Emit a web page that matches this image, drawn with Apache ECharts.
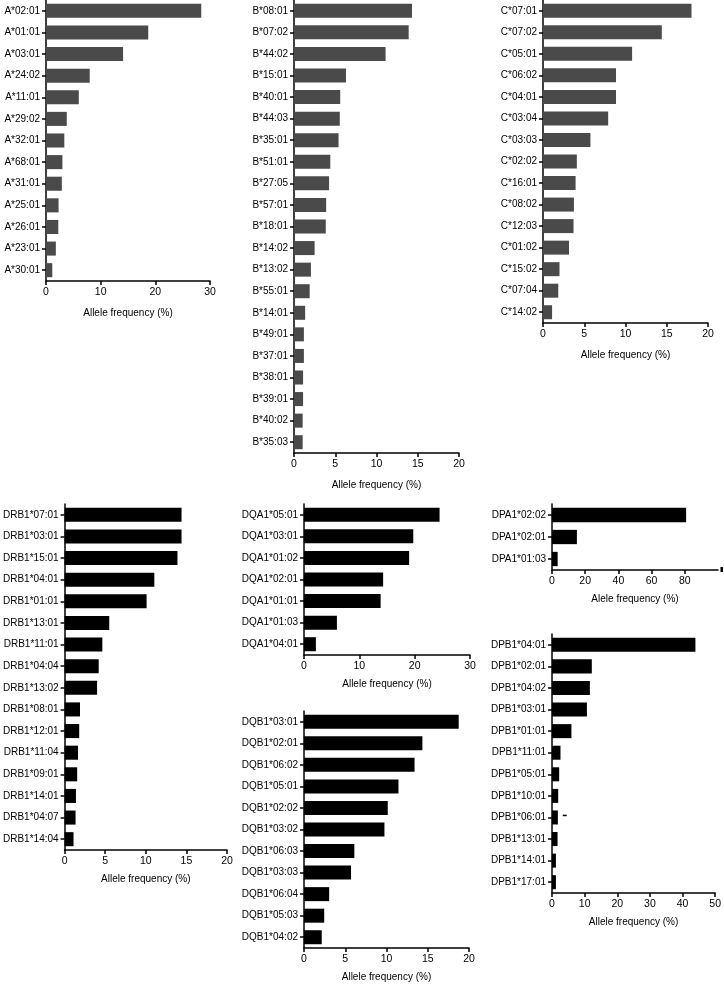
<!DOCTYPE html>
<html>
<head>
<meta charset="utf-8">
<script src="https://cdn.jsdelivr.net/npm/echarts@6/dist/echarts.min.js"></script>
<style>html,body{margin:0;padding:0;background:#fff}#c{width:724px;height:984px}</style>
</head>
<body>
<div id="c"></div>
<script>
// ---- Data ----
const hlaA = ['A*02:01','A*01:01','A*03:01','A*24:02','A*11:01','A*29:02','A*32:01','A*68:01','A*31:01','A*25:01','A*26:01','A*23:01','A*30:01'];
const hlaAVals = [28.4,18.7,14.1,8.0,6.0,3.8,3.35,3.0,2.9,2.3,2.25,1.8,1.15];

const hlaB = ['B*08:01','B*07:02','B*44:02','B*15:01','B*40:01','B*44:03','B*35:01','B*51:01','B*27:05','B*57:01','B*18:01','B*14:02','B*13:02','B*55:01','B*14:01','B*49:01','B*37:01','B*38:01','B*39:01','B*40:02','B*35:03'];
const hlaBVals = [14.3,13.9,11.1,6.3,5.6,5.55,5.4,4.4,4.25,3.9,3.85,2.5,2.05,1.9,1.35,1.2,1.2,1.1,1.1,1.05,1.05];

const hlaC = ['C*07:01','C*07:02','C*05:01','C*06:02','C*04:01','C*03:04','C*03:03','C*02:02','C*16:01','C*08:02','C*12:03','C*01:02','C*15:02','C*07:04','C*14:02'];
const hlaCVals = [18.0,14.4,10.8,8.85,8.85,7.9,5.75,4.1,3.95,3.75,3.7,3.15,2.0,1.85,1.1];

const drb1 = ['DRB1*07:01','DRB1*03:01','DRB1*15:01','DRB1*04:01','DRB1*01:01','DRB1*13:01','DRB1*11:01','DRB1*04:04','DRB1*13:02','DRB1*08:01','DRB1*12:01','DRB1*11:04','DRB1*09:01','DRB1*14:01','DRB1*04:07','DRB1*14:04'];
const drb1Vals = [14.4,14.4,13.9,11.05,10.1,5.5,4.65,4.2,4.0,1.9,1.8,1.65,1.55,1.4,1.35,1.1];

const dqa1 = ['DQA1*05:01','DQA1*03:01','DQA1*01:02','DQA1*02:01','DQA1*01:01','DQA1*01:03','DQA1*04:01'];
const dqa1Vals = [24.5,19.75,19.0,14.3,13.85,5.95,2.15];

const dqb1 = ['DQB1*03:01','DQB1*02:01','DQB1*06:02','DQB1*05:01','DQB1*02:02','DQB1*03:02','DQB1*06:03','DQB1*03:03','DQB1*06:04','DQB1*05:03','DQB1*04:02'];
const dqb1Vals = [18.75,14.35,13.4,11.45,10.15,9.75,6.1,5.7,3.05,2.45,2.15];

const dpa1 = ['DPA1*02:02','DPA1*02:01','DPA1*01:03'];
const dpa1Vals = [80.8,15.0,3.4];

const dpb1 = ['DPB1*04:01','DPB1*02:01','DPB1*04:02','DPB1*03:01','DPB1*01:01','DPB1*11:01','DPB1*05:01','DPB1*10:01','DPB1*06:01','DPB1*13:01','DPB1*14:01','DPB1*17:01'];
const dpb1Vals = [43.95,12.2,11.6,10.7,5.95,2.6,2.2,1.9,1.8,1.7,1.2,1.2];

const xName = 'Allele frequency (%)';
const xNameDPA = 'Alele frequency (%)';
const ticksA = [0,10,20,30];
const ticks20 = [0,5,10,15,20];
const ticks30 = [0,10,20,30];
const ticksDPA = [0,20,40,60,80];
const ticksDPB = [0,10,20,30,40,50];

// ---- Layout ----
const FONT = 'Liberation Sans, Arial, Helvetica, sans-serif';
const GRAY = '#4a4a4a';
const BLACK = '#000000';

const panels = [
  {cats:hlaA, vals:hlaAVals, max:30, ticks:ticksA, name:xName, color:GRAY, grid:{left:46,top:-1,width:164,height:282}, gap:27},
  {cats:hlaB, vals:hlaBVals, max:20, ticks:ticks20, name:xName, color:GRAY, grid:{left:294,top:-1,width:165,height:454}, gap:27},
  {cats:hlaC, vals:hlaCVals, max:20, ticks:ticks20, name:xName, color:GRAY, grid:{left:543,top:-1,width:165,height:324}, gap:27},
  {cats:drb1, vals:drb1Vals, max:20, ticks:ticks20, name:xName, color:BLACK, grid:{left:62,top:504,width:165,height:346}, gap:24},
  {cats:dqa1, vals:dqa1Vals, max:30, ticks:ticks30, name:xName, color:BLACK, grid:{left:304,top:504,width:166,height:151}, gap:24},
  {cats:dqb1, vals:dqb1Vals, max:20, ticks:ticks20, name:xName, color:BLACK, grid:{left:304,top:711,width:165,height:237}, gap:24},
  {cats:dpa1, vals:dpa1Vals, max:100, ticks:ticksDPA, name:xNameDPA, color:BLACK, grid:{left:552,top:504,width:166,height:66}, gap:24},
  {cats:dpb1, vals:dpb1Vals, max:50, ticks:ticksDPB, name:xName, color:BLACK, grid:{left:552,top:634,width:165,height:259}, gap:24}
];

const axisLineStyle = {color:'#000', width:1.5};
const grids = [], xAxes = [], yAxes = [], series = [];
panels.forEach((p, i) => {
  grids.push(Object.assign({containLabel:false}, p.grid));
  xAxes.push({
    type:'value', gridIndex:i, min:0, max:p.max,
    splitLine:{show:false},
    axisLine:{show:true, onZero:false, lineStyle:axisLineStyle},
    axisTick:{show:true, length:4, lineStyle:axisLineStyle, customValues:p.ticks},
    axisLabel:{color:'#000', fontFamily:FONT, fontSize:10.5, margin:6, customValues:p.ticks},
    name:p.name, nameLocation:'middle', nameGap:p.gap,
    nameTextStyle:{color:'#000', fontFamily:FONT, fontSize:10}
  });
  yAxes.push({
    type:'category', gridIndex:i, data:p.cats, inverse:true,
    axisLine:{show:true, lineStyle:axisLineStyle},
    axisTick:{show:true, length:4, alignWithLabel:true, lineStyle:axisLineStyle},
    axisLabel:{color:'#000', fontFamily:FONT, fontSize:10, margin:6},
    splitLine:{show:false}
  });
  series.push({
    type:'bar', xAxisIndex:i, yAxisIndex:i, data:p.vals,
    barCategoryGap:'35%', silent:true,
    itemStyle:{color:p.color}
  });
});

const chart = echarts.init(document.getElementById('c'), null, {renderer:'canvas'});
chart.setOption({
  animation:false,
  backgroundColor:'#fff',
  grid:grids, xAxis:xAxes, yAxis:yAxes, series:series
});

// small decorative marks present in the original figure
const d1 = chart.convertToPixel({xAxisIndex:7, yAxisIndex:7}, [3.3, 'DPB1*06:01']);
const d2 = chart.convertToPixel({xAxisIndex:7, yAxisIndex:7}, [4.5, 'DPB1*06:01']);
const e1 = chart.convertToPixel({xAxisIndex:6, yAxisIndex:6}, [101.5, 'DPA1*01:03']);
chart.setOption({
  graphic:[
    {type:'line', shape:{x1:d1[0], y1:d1[1]-2, x2:d2[0], y2:d2[1]-2}, style:{stroke:'#000', lineWidth:1.5}},
    {type:'rect', shape:{x:e1[0], y:570-3, width:2.5, height:5}, style:{fill:'#000'}}
  ]
});
</script>
</body>
</html>
